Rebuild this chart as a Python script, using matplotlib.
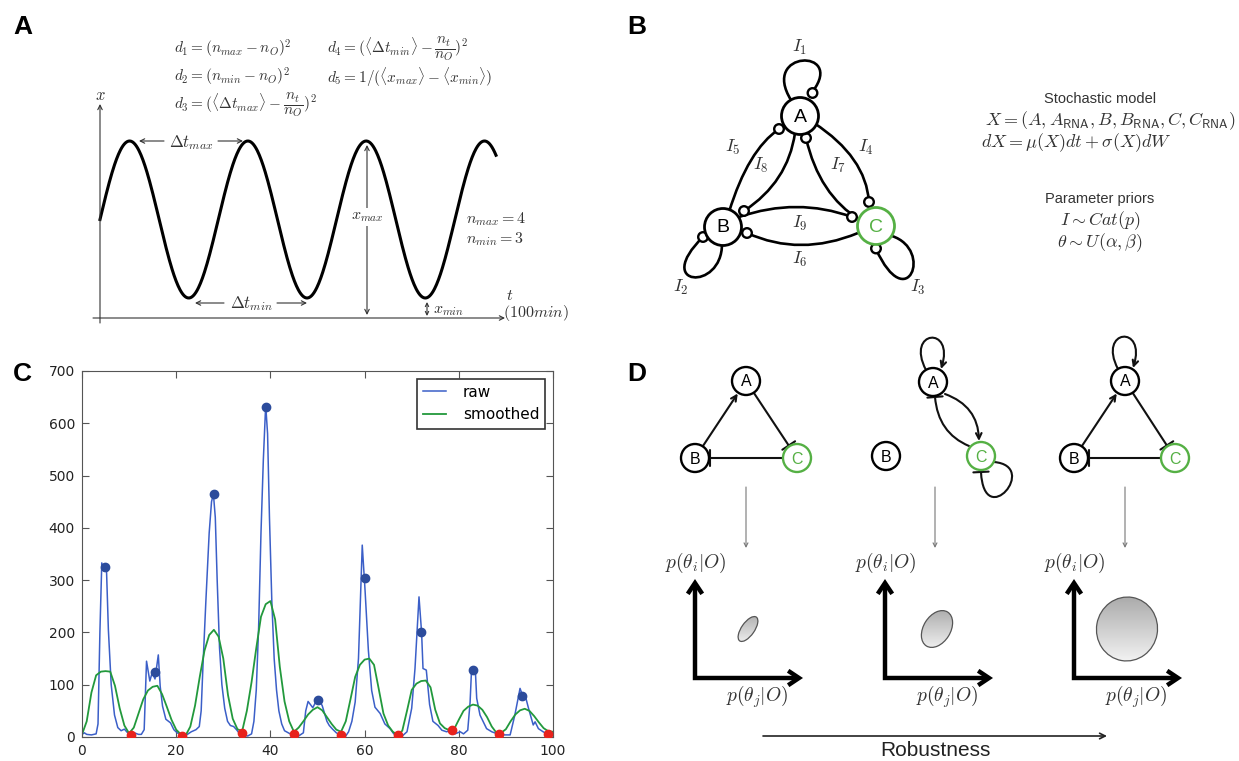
import numpy as np
import matplotlib
matplotlib.use("Agg")
import matplotlib.pyplot as plt
from matplotlib.patches import Circle, Ellipse, PathPatch, FancyArrowPatch, ArrowStyle
from matplotlib.path import Path
from matplotlib.colors import LinearSegmentedColormap

plt.rcParams['mathtext.fontset'] = 'cm'
plt.rcParams['font.family'] = ['DejaVu Sans']

# ---------------- Panel C data ----------------
raw_t = [0, 0.5, 1, 2, 3, 3.4, 3.8, 4.2, 4.6, 4.9, 5.2, 5.6, 6.2, 6.9, 7.6,
         8.3, 9.0, 9.7, 10.3, 11.1, 12.0, 12.6, 13.2, 13.7, 14.4, 14.9, 15.5, 16.2, 16.6, 17.1,
         17.8, 18.8, 19.5, 20.2, 21.2, 22.2, 23.2, 24.2, 24.9, 25.3, 25.7, 26.3, 27.0, 27.5, 27.9,
         28.3, 28.7, 29.2, 29.7, 30.3, 30.9, 31.5, 32.2, 32.8, 33.5, 34.2, 35.2, 36.0, 36.5, 37.0,
         37.5, 38.0, 38.5, 39.0, 39.4, 39.8, 40.3, 40.8, 41.3, 41.8, 42.4, 43.0, 44.0, 45.0, 46.0,
         47.0, 47.5, 48.0, 48.5, 49.0, 49.5, 50.0, 50.5, 51.0, 51.5, 52.0, 52.5, 53.2, 54.0, 55.0,
         56.0, 56.6, 57.3, 58.0, 58.7, 59.5, 60.1, 60.8, 61.5, 62.2, 63.3, 64.3, 65.4, 66.2, 67.0,
         68.0, 69.0, 70.0, 70.7, 71.55, 72.1, 72.4, 73.1, 73.8, 74.5, 75.6, 76.4, 77.4, 78.5, 79.2,
         80.3, 81.0, 81.9, 82.4, 82.7, 83.5, 83.8, 84.5, 85.2, 85.9, 87.0, 88.5, 89.8, 90.9, 91.9,
         93.0, 93.56, 94.05, 94.8, 95.8, 96.2, 96.9, 97.9, 99.0, 100]
raw_v = [5, 8, 5, 4, 6, 25, 200, 333, 318, 330, 320, 205, 100, 42, 18,
         12, 15, 8, 5, 8, 5, 5, 14, 145, 107, 123, 111, 157, 97, 59,
         34, 27, 14, 8, 4, 4, 10, 14, 20, 50, 140, 260, 390, 450, 465,
         420, 300, 170, 100, 55, 30, 22, 20, 14, 6, 3, 2, 6, 30, 90,
         210, 390, 530, 635, 580, 420, 260, 150, 90, 50, 25, 12, 7, 3, 2,
         8, 50, 68, 62, 56, 65, 70, 68, 60, 45, 30, 22, 15, 8, 3,
         2, 10, 30, 67, 150, 367, 280, 166, 89, 57, 45, 25, 16, 6, 3,
         2, 10, 55, 131, 268, 200, 131, 128, 62, 30, 22, 13, 10, 13, 6,
         10, 6, 13, 67, 128, 130, 74, 42, 29, 16, 10, 5, 4, 4, 42,
         93, 79, 81, 55, 23, 29, 16, 10, 5, 8]
smooth_t = list(range(101))
smooth_v = [5, 30, 85, 118, 125, 126, 125, 98, 55, 22,
            7, 18, 45, 72, 89, 96, 98, 82, 58, 33,
            14, 5, 3, 20, 60, 115, 165, 195, 205, 192,
            150, 80, 35, 15, 11, 50, 105, 170, 230, 254,
            260, 225, 134, 68, 30, 10, 18, 30, 43, 52,
            57, 51, 38, 25, 14, 10, 30, 72, 115, 138,
            148, 150, 138, 92, 45, 22, 10, 4, 12, 50,
            90, 102, 107, 108, 95, 52, 26, 17, 13, 15,
            33, 50, 58, 62, 60, 52, 38, 20, 8, 8,
            15, 30, 43, 51, 54, 50, 40, 28, 17, 11,
            10]
peak_t = [4.9, 15.5, 28.0, 39.0, 50.0, 60.0, 72.0, 83.1, 93.5]
peak_v = [326, 124, 465, 632, 71, 305, 201, 128, 78]
trough_t = [10.3, 21.3, 33.9, 45.0, 55.0, 67.0, 78.5, 88.5, 98.9]
trough_v = [4, 2, 8, 6, 4, 3, 13, 5, 5]
c_xticks = [0, 20, 40, 60, 80, 100]
c_yticks = [0, 100, 200, 300, 400, 500, 600, 700]
legend_labels = ['raw', 'smoothed']

# ---------------- Panel A / B / D texts ----------------
a_eqs_left = [r'$d_1 = (n_{max} - n_O)^2$', r'$d_2 = (n_{min} - n_O)^2$',
              r'$d_3 = (\langle \Delta t_{max} \rangle - \dfrac{n_t}{n_O})^2$']
a_eqs_right = [r'$d_4 = (\langle \Delta t_{min} \rangle - \dfrac{n_t}{n_O})^2$',
               r'$d_5 = 1/(\langle x_{max} \rangle - \langle x_{min} \rangle)$']
a_counts = [r'$n_{max} = 4$', r'$n_{min} = 3$']
b_model = ['Stochastic model', r'$X = (A, A_{\mathsf{RNA}}, B, B_{\mathsf{RNA}}, C, C_{\mathsf{RNA}})$',
           r'$dX = \mu(X)dt + \sigma(X)dW$']
b_priors = ['Parameter priors', r'$I \sim Cat(p)$', r'$\theta \sim U(\alpha, \beta)$']

W, H = 1239, 761
fig = plt.figure(figsize=(W / 100, H / 100), dpi=100)
ov = fig.add_axes([0, 0, 1, 1])
ov.set_xlim(0, W)
ov.set_ylim(H, 0)
ov.axis('off')

SANS = 'Liberation Sans'
MC = '#333333'
GREEN = '#55b044'

for s, (x, y) in zip('ABCD', [(23, 27), (637, 27), (22, 374), (637, 374)]):
    ov.text(x, y, s, fontsize=19, fontweight='bold', family=SANS, ha='center', va='center')


def arrow(p0, p1, style='->', lw=0.8, color='#333333', ms=8):
    ov.annotate('', xy=p1, xytext=p0,
                arrowprops=dict(arrowstyle=style, lw=lw, color=color, shrinkA=0, shrinkB=0,
                                mutation_scale=ms))


def mtext(x, y, s, fs=10, ha='left', **kw):
    ov.text(x, y, s, fontsize=fs, color=MC, ha=ha, va='center', **kw)


# ---------------- Panel A ----------------
arrow((100, 323), (100, 104))
arrow((93, 318), (505, 318))
xs = np.linspace(100, 496, 600)
ov.plot(xs, 219.5 - 78.5 * np.sin(2 * np.pi * (xs - 100) / 118.3), color='k', lw=2.2)
for i, s in enumerate(a_eqs_left):
    mtext(174, [49, 77, 105][i], s, fs=11)
for i, s in enumerate(a_eqs_right):
    mtext(327, [49, 77][i], s, fs=11)
mtext(100, 95, r'$x$', fs=12, ha='center')
mtext(191, 143, r'$\Delta t_{max}$', fs=12, ha='center')
arrow((164, 141), (139, 141))
arrow((218, 141), (243, 141))
mtext(251, 304, r'$\Delta t_{min}$', fs=12, ha='center')
arrow((224, 303), (195, 303))
arrow((277, 303), (307, 303))
arrow((367, 145), (367, 315), style='<->')
mtext(367, 217, r'$x_{max}$', fs=11.5, ha='center',
      bbox=dict(fc='white', ec='none', pad=1))
arrow((427, 302), (427, 316), style='<->', ms=6)
mtext(433, 310, r'$x_{min}$', fs=11.5)
mtext(466, 219, a_counts[0], fs=11.5)
mtext(466, 239, a_counts[1], fs=11.5)
mtext(506, 295, r'$t$', fs=11.5)
mtext(503, 313, r'$(100min)$', fs=11.5)

# ---------------- Panel B ----------------
LWB = 1.9


def pp(pts, codes, lw=LWB, color='k', z=2):
    ov.add_patch(PathPatch(Path(pts, codes), fc='none', ec=color, lw=lw, zorder=z))


def quad(p0, c, p1):
    pp([p0, c, p1], [Path.MOVETO, Path.CURVE3, Path.CURVE3])


def cubic(p0, c1, c2, p1):
    pp([p0, c1, c2, p1], [Path.MOVETO, Path.CURVE4, Path.CURVE4, Path.CURVE4])


def endc(p):
    ov.add_patch(Circle(p, 4.8, fc='white', ec='k', lw=1.7, zorder=5))


nA, nB, nC = (800, 116), (723, 227), (876, 226)
RB = 18.5
quad((729, 212), (748, 150), (779, 129)); endc((779, 129))      # I5
quad((795, 133), (788, 182), (744, 211)); endc((744, 211))      # I8
quad((814, 123), (866, 157), (869, 202)); endc((869, 202))      # I4
quad((806, 138), (819, 195), (860, 220)); endc((806, 138))      # I7
quad((739, 217), (797, 197), (852, 217)); endc((852, 217))      # I9
quad((747, 233), (800, 257), (858, 233)); endc((747, 233))      # I6
cubic((791, 100), (760, 50), (845, 48), (813, 91)); endc((812.5, 93))    # I1
cubic((722, 244), (722, 292), (652, 287), (703, 237)); endc((703, 237))  # I2
cubic((892, 236), (934, 250), (907, 317), (876, 249)); endc((876, 248.5))  # I3
for c, lab, col in [(nA, 'A', 'k'), (nB, 'B', 'k'), (nC, 'C', GREEN)]:
    ov.add_patch(Circle(c, RB, fc='white', ec=col, lw=2.0, zorder=6))
    ov.text(c[0], c[1] + 1, lab, fontsize=14, family=SANS, color=col, ha='center', va='center', zorder=7)
ilabels = {1: (800, 47), 2: (681, 287), 3: (918, 287), 4: (866, 147), 5: (733, 147),
           6: (800, 259), 7: (838, 165), 8: (761, 165), 9: (800, 223)}
for k, (x, y) in ilabels.items():
    mtext(x, y, r'$I_{%d}$' % k, fs=13, ha='center')

ov.text(1100, 99, b_model[0], fontsize=10.5, family=SANS, color=MC, ha='center', va='center')
mtext(985, 121, b_model[1], fs=13)
mtext(981, 143, b_model[2], fs=13)
ov.text(1100, 199, b_priors[0], fontsize=10.5, family=SANS, color=MC, ha='center', va='center')
mtext(1100, 221, b_priors[1], fs=13, ha='center')
mtext(1100, 243, b_priors[2], fs=13, ha='center')

# ---------------- Panel D ----------------
rD = 14


def bnd(c, t, r=rD + 1):
    v = np.array(t, float) - np.array(c, float)
    v /= np.hypot(*v)
    return tuple(np.array(c, float) + r * v)


def fap(p0, p1=None, style='->', path=None):
    if style == 'bar':
        style = ArrowStyle('-[', widthB=0.55, lengthB=0.0)
    if path is not None:
        a = FancyArrowPatch(path=path, arrowstyle=style, mutation_scale=10, lw=1.5, color='#111111', zorder=2)
    else:
        a = FancyArrowPatch(p0, p1, arrowstyle=style, mutation_scale=10, lw=1.5, color='#111111',
                            shrinkA=0, shrinkB=0, zorder=2)
    ov.add_patch(a)


def loop_top(a):
    x, y = a
    p = Path([(x - 7, y - 12), (x - 28, y - 52), (x + 22, y - 57), (x + 8, y - 13)],
             [Path.MOVETO, Path.CURVE4, Path.CURVE4, Path.CURVE4])
    fap(None, path=p, style='->')


nets = [((746, 381), (695, 458), (797, 458)),
        ((933, 382), (886, 456), (981, 456)),
        ((1125, 381), (1074, 458), (1175, 458))]
for i, (a, b, c) in enumerate(nets):
    if i in (0, 2):
        fap(bnd(b, a), bnd(a, b), '->')
        fap(bnd(a, c), bnd(c, a), 'bar')
        fap(bnd(c, b), bnd(b, c), 'bar')
    if i in (1, 2):
        loop_top(a)
    if i == 1:
        fap(None, path=Path([(945, 394), (978, 406), (979, 441)],
                            [Path.MOVETO, Path.CURVE3, Path.CURVE3]), style='->')
        fap(None, path=Path([(969, 446), (938, 433), (935, 397)],
                            [Path.MOVETO, Path.CURVE3, Path.CURVE3]), style='bar')
        fap(None, path=Path([(994, 462), (1040, 466), (984, 532), (981, 472)],
                            [Path.MOVETO, Path.CURVE4, Path.CURVE4, Path.CURVE4]), style='bar')
    for n, lab, col in [(a, 'A', 'k'), (b, 'B', 'k'), (c, 'C', GREEN)]:
        ov.add_patch(Circle(n, rD, fc='white', ec=col, lw=1.7, zorder=6))
        ov.text(n[0], n[1] + 1, lab, fontsize=11.5, family=SANS, color=col, ha='center', va='center', zorder=7)

cm_grad = LinearSegmentedColormap.from_list('g', ['#a9a9a9', '#f4f4f4'])
grad = np.linspace(0, 1, 200).reshape(-1, 1)
corners = [695, 885, 1074]
ells = [((748, 629), 29, 13, -55), ((937, 629), 40, 27, -58), ((1127, 629), 61, 64, 10)]
for k, x0 in enumerate(corners):
    ax_x = nets[k][0][0] + (2 if k == 1 else 0)
    arrow((ax_x, 487), (ax_x, 548), color='#777777', lw=0.8, ms=7)
    mtext(x0, 563, r'$p(\theta_i|O)$', fs=14, ha='center')
    mtext(x0 + 62, 697, r'$p(\theta_j|O)$', fs=14, ha='center')
    ov.plot([x0, x0, x0 + 102], [584, 678, 678], color='k', lw=3.2, solid_joinstyle='miter',
            solid_capstyle='butt')
    ov.plot([x0 - 6, x0, x0 + 6], [592, 583, 592], color='k', lw=3.2, solid_joinstyle='miter')
    ov.plot([x0 + 95, x0 + 104, x0 + 95], [672, 678, 684], color='k', lw=3.2, solid_joinstyle='miter')
    (cx, cy), w, h, ang = ells[k]
    e = Ellipse((cx, cy), w, h, angle=ang, fc='none', ec='#555555', lw=0.9, zorder=4)
    ov.add_patch(e)
    r = max(w, h) / 2 + 2
    im = ov.imshow(grad, extent=(cx - r, cx + r, cy + r, cy - r), cmap=cm_grad, aspect='auto',
                   origin='upper', zorder=3)
    im.set_clip_path(e)

arrow((763, 736), (1107, 736), lw=1.2, color='#222222', ms=10)
ov.text(935, 750, 'Robustness', fontsize=15, family=SANS, color='#222222', ha='center', va='center')

ov.set_xlim(0, W)
ov.set_ylim(H, 0)

# ---------------- Panel C ----------------
axc = fig.add_axes([82 / W, 1 - 737 / H, 471 / W, 366 / H])
axc.plot(raw_t, raw_v, color='#3b5fc8', lw=1.1, label=legend_labels[0])
axc.plot(smooth_t, smooth_v, color='#22993c', lw=1.3, label=legend_labels[1])
axc.plot(peak_t, peak_v, 'o', color='#2c4c9c', ms=6, zorder=5)
axc.plot(trough_t, trough_v, 'o', color='#e8221c', ms=6, zorder=5)
axc.set_xlim(0, 100)
axc.set_ylim(0, 700)
axc.set_xticks(c_xticks)
axc.set_yticks(c_yticks)
axc.tick_params(direction='in', length=5, top=True, right=True, labelsize=10,
                labelcolor='#222222', color='#555555', pad=5)
for sp in axc.spines.values():
    sp.set_color('#555555')
leg = axc.legend(loc='upper right', fontsize=11, fancybox=False, framealpha=1, edgecolor='#333333',
                 handlelength=1.5, handletextpad=1.1, borderaxespad=0.5)
leg.get_frame().set_linewidth(1.2)

fig.savefig('out.png', dpi=100)
